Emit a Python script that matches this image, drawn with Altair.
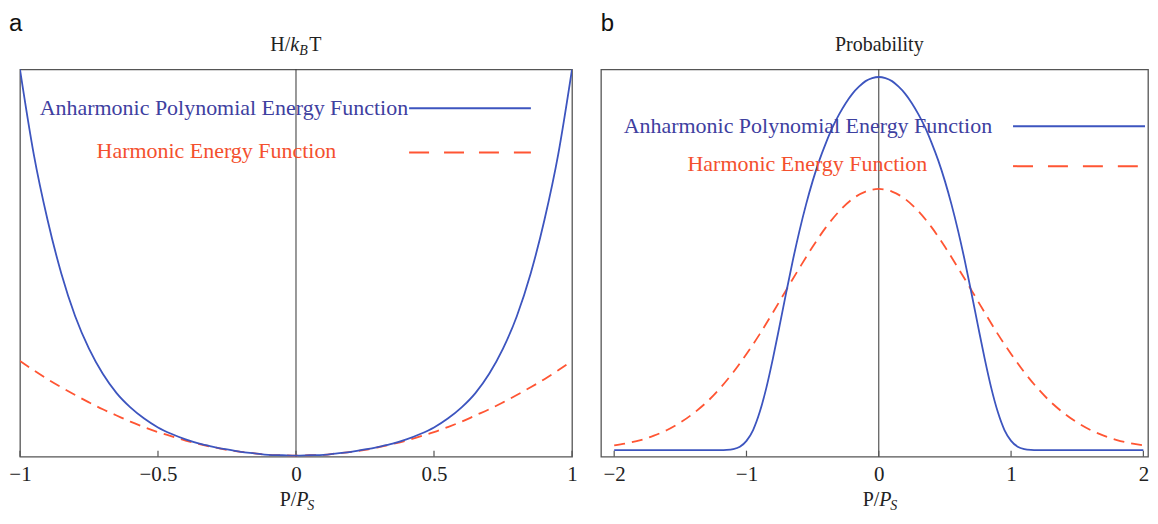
import altair as alt
import pandas as pd

# ---------------- data ----------------
xa = [-1.0, -0.95, -0.9, -0.85, -0.8, -0.75, -0.7, -0.65, -0.6, -0.55, -0.5,
      -0.45, -0.4, -0.35, -0.3, -0.25, -0.2, -0.15, -0.1, -0.05, 0.0,
      0.05, 0.1, 0.15, 0.2, 0.25, 0.3, 0.35, 0.4, 0.45, 0.5,
      0.55, 0.6, 0.65, 0.7, 0.75, 0.8, 0.85, 0.9, 0.95, 1.0]
h_anh = [1.000, 0.780, 0.610, 0.471, 0.361, 0.277, 0.212, 0.162, 0.125, 0.096, 0.073,
         0.056, 0.042, 0.031, 0.023, 0.016, 0.010, 0.006, 0.002, 0.001, 0.000,
         0.001, 0.002, 0.006, 0.010, 0.016, 0.023, 0.031, 0.042, 0.056, 0.073,
         0.096, 0.125, 0.162, 0.212, 0.277, 0.361, 0.471, 0.610, 0.780, 1.000]
h_harm = [0.245, 0.221, 0.198, 0.177, 0.157, 0.138, 0.120, 0.104, 0.088, 0.074, 0.061,
          0.050, 0.039, 0.030, 0.022, 0.015, 0.010, 0.006, 0.002, 0.001, 0.000,
          0.001, 0.002, 0.006, 0.010, 0.015, 0.022, 0.030, 0.039, 0.050, 0.061,
          0.074, 0.088, 0.104, 0.120, 0.138, 0.157, 0.177, 0.198, 0.221, 0.245]

xb_anh = [-2.0, -1.8, -1.6, -1.4, -1.3, -1.2, -1.15, -1.1, -1.05, -1.0, -0.95,
          -0.9, -0.85, -0.8, -0.75, -0.7, -0.65, -0.6, -0.55, -0.5, -0.45,
          -0.4, -0.35, -0.3, -0.25, -0.2, -0.15, -0.1, -0.05, 0.0,
          0.05, 0.1, 0.15, 0.2, 0.25, 0.3, 0.35, 0.4, 0.45,
          0.5, 0.55, 0.6, 0.65, 0.7, 0.75, 0.8, 0.85, 0.9, 0.95,
          1.0, 1.05, 1.1, 1.15, 1.2, 1.3, 1.4, 1.6, 1.8, 2.0]
p_anh = [0.0, 0.0, 0.0, 0.0, 0.0, 0.0001, 0.0006, 0.0027, 0.0092, 0.025, 0.054,
         0.102, 0.167, 0.246, 0.333, 0.422, 0.508, 0.587, 0.658, 0.721, 0.776,
         0.823, 0.865, 0.900, 0.930, 0.955, 0.974, 0.989, 0.997, 1.000,
         0.997, 0.989, 0.974, 0.955, 0.930, 0.900, 0.865, 0.823, 0.776,
         0.721, 0.658, 0.587, 0.508, 0.422, 0.333, 0.246, 0.167, 0.102, 0.054,
         0.025, 0.0092, 0.0027, 0.0006, 0.0001, 0.0, 0.0, 0.0, 0.0, 0.0]

xb_harm = [-2.0, -1.9, -1.8, -1.7, -1.6, -1.5, -1.4, -1.3, -1.2, -1.1, -1.0,
           -0.9, -0.8, -0.7, -0.6, -0.5, -0.4, -0.3, -0.2, -0.1, 0.0,
           0.1, 0.2, 0.3, 0.4, 0.5, 0.6, 0.7, 0.8, 0.9, 1.0,
           1.1, 1.2, 1.3, 1.4, 1.5, 1.6, 1.7, 1.8, 1.9, 2.0]
p_harm = [0.013, 0.019, 0.027, 0.039, 0.054, 0.074, 0.099, 0.129, 0.166, 0.209, 0.258,
          0.311, 0.369, 0.429, 0.488, 0.545, 0.597, 0.640, 0.673, 0.693, 0.700,
          0.693, 0.673, 0.640, 0.597, 0.545, 0.488, 0.429, 0.369, 0.311, 0.258,
          0.209, 0.166, 0.129, 0.099, 0.074, 0.054, 0.039, 0.027, 0.019, 0.013]

ticks_a = [-1, -0.5, 0, 0.5, 1]
ticks_b = [-2, -1, 0, 1, 2]

label_anh = "Anharmonic Polynomial Energy Function"
label_harm = "Harmonic Energy Function"

# ---------------- styling ----------------
BLUE = "#3d55bf"
RED = "#ff5533"
BLUE_TXT = "#3e409f"
RED_TXT = "#f4502e"
FRAME = "#555555"
SERIF = "Liberation Serif"
SANS = "Liberation Sans"
H = 388

dummy = pd.DataFrame({"d": [0]})


def txt(s, x, y, size=20, color="#222222", style="normal", align="left", font=SERIF):
    return alt.Chart(dummy).mark_text(
        text=s, font=font, fontSize=size, color=color, fontStyle=style,
        align=align, baseline="alphabetic"
    ).encode(x=alt.value(x), y=alt.value(y))


def seg(x1, x2, y, color, dash=None):
    kw = dict(color=color, strokeWidth=2)
    if dash:
        kw["strokeDash"] = dash
    return alt.Chart(dummy).mark_rule(**kw).encode(
        x=alt.value(x1), x2=alt.value(x2), y=alt.value(y))


def panel(width, xs_a, ys_a, xs_h, ys_h, xdom, ydom, ticks, leg, letter, xt, title_layers):
    xsc = alt.Scale(domain=xdom, nice=False, zero=False)
    ysc = alt.Scale(domain=ydom, nice=False, zero=False)
    xaxis = alt.Axis(values=ticks, ticks=False, domain=False, grid=False,
                     labelFont=SERIF, labelFontSize=21, labelColor="#222222",
                     labelPadding=7, labelFlush=False, title=None,
                     labelExpr="replace(toString(datum.value), '-', '\u2212')")
    df_a = pd.DataFrame({"x": xs_a, "y": ys_a})
    df_h = pd.DataFrame({"x": xs_h, "y": ys_h})
    zero = alt.Chart(pd.DataFrame({"x": [0]})).mark_rule(
        color="#333333", strokeWidth=1).encode(x=alt.X("x:Q", scale=xsc, axis=xaxis))
    tk = alt.Chart(pd.DataFrame({"x": ticks})).mark_rule(
        color=FRAME, strokeWidth=1.2).encode(x="x:Q", y=alt.value(H), y2=alt.value(H - 6))
    harm = alt.Chart(df_h).mark_line(
        color=RED, strokeWidth=1.8, strokeDash=[11, 7], clip=True,
        interpolate="monotone").encode(x="x:Q", y=alt.Y("y:Q", scale=ysc, axis=None))
    anh = alt.Chart(df_a).mark_line(
        color=BLUE, strokeWidth=1.8, clip=True,
        interpolate="monotone").encode(x="x:Q", y=alt.Y("y:Q", scale=ysc, axis=None))
    (bx, by, rx, ry, lx1, lx2b, lx2r, lyb, lyr) = leg
    layers = [zero, tk, harm, anh,
              txt(label_anh, bx, by, size=22, color=BLUE_TXT, align="center"),
              txt(label_harm, rx, ry, size=22, color=RED_TXT, align="center"),
              seg(lx1, lx2b, lyb, BLUE),
              seg(lx1, lx2r, lyr, RED, dash=[20, 15]),
              txt(letter[0], letter[1], -38, size=24, color="#111111", font=SANS),
              # x axis title  P/P_S
              txt("P/", xt, 437, size=20, align="right"),
              txt("P", xt, 437, size=20, style="italic"),
              txt("S", xt + 11, 441, size=14, style="italic"),
              ] + title_layers
    return alt.layer(*layers).properties(width=width, height=H)


title_a = [txt("H/", 270.8, -18, size=20, align="right"),
           txt("k", 270.8, -18, size=20, style="italic"),
           txt("B", 279.8, -14, size=14, style="italic"),
           txt("T", 289.8, -18, size=20)]
title_b = [txt("Probability", 278.8, -18, size=20, align="center")]

left = panel(553, xa, h_anh, xa, h_harm, [-1, 1], [-0.0026, 1.0], ticks_a,
             (204.3, 45.5, 196.8, 89, 389.8, 511.8, 511.8, 39, 83.4),
             ("a", -11), 276.8, title_a)
right = panel(548, xb_anh, p_anh, xb_harm, p_harm, [-2.1, 2.035], [-0.0174, 1.0206], ticks_b,
              (207.3, 63.5, 206.8, 102, 412.8, 545, 538.8, 57, 97),
              ("b", -0.2), 278.8, title_b)

chart = alt.hconcat(left, right, spacing=29, bounds="flush").properties(
    padding={"left": 0, "top": 3, "right": 0, "bottom": 0}
).configure_view(stroke=FRAME, strokeWidth=1.3)

chart.save("out.html", embed_options={"renderer": "svg", "actions": False})
